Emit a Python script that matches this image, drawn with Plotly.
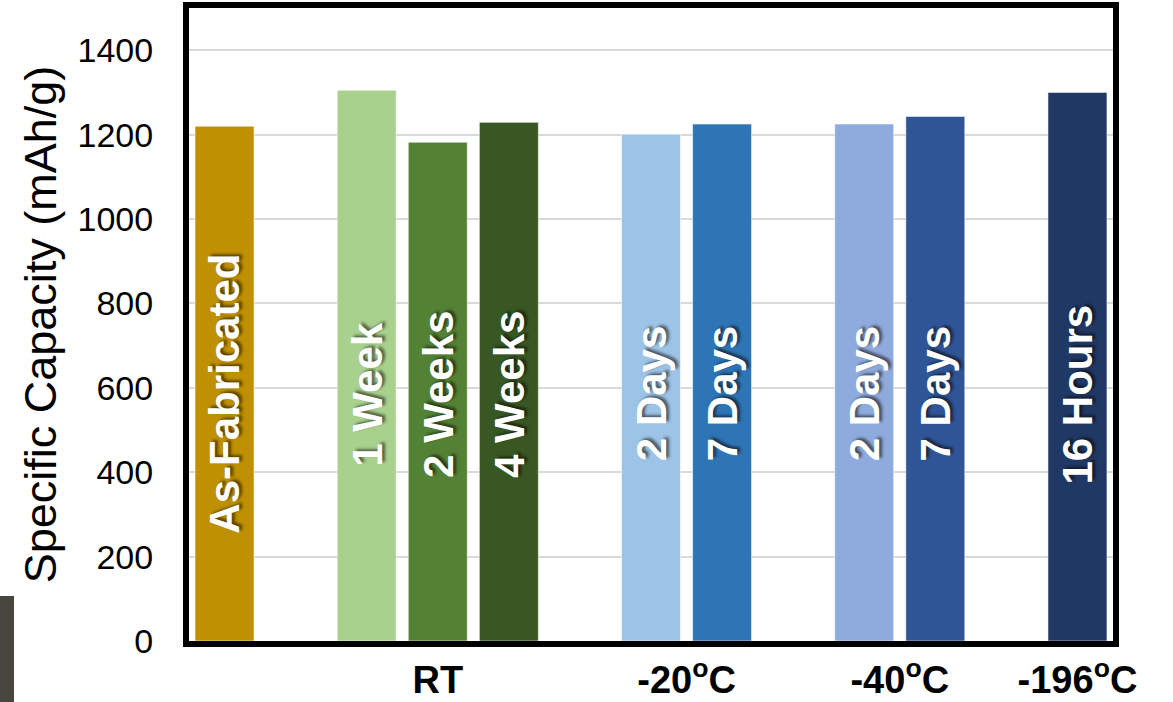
import plotly.graph_objects as go

# ---- data ----
group_names = ["", "RT", "-20<sup>o</sup>C", "-40<sup>o</sup>C", "-196<sup>o</sup>C"]
bar_labels = ["As-Fabricated", "1 Week", "2 Weeks", "4 Weeks",
              "2 Days", "7 Days", "2 Days", "7 Days", "16 Hours"]
bar_group = [0, 1, 1, 1, 2, 2, 3, 3, 4]
capacity = [1220, 1305, 1182, 1229, 1201, 1225, 1225, 1243, 1300]
bar_colors = ["#BF9000", "#A9D18E", "#548235", "#385723",
              "#9DC3E6", "#2E75B6", "#8FAADC", "#2F5597", "#203864"]
y_ticks = [0, 200, 400, 600, 800, 1000, 1200, 1400]

# slot positions: one empty slot between groups
xpos = []
pos = 0
prev = bar_group[0]
for g in bar_group:
    if g != prev:
        pos += 1
        prev = g
    xpos.append(pos)
    pos += 1

group_centers = []
group_text = []
for gi, name in enumerate(group_names):
    members = [x for x, g in zip(xpos, bar_group) if g == gi]
    if name:
        group_centers.append(sum(members) / len(members))
        group_text.append(name)

FONT = "Arial, Liberation Sans, Helvetica, sans-serif"

L, R, T, B = 189, 60, 8, 61
W, H = 1173, 702
pw, ph = W - L - R, H - T - B

fig = go.Figure()
fig.add_trace(go.Bar(
    x=xpos, y=capacity,
    marker=dict(color=bar_colors, line=dict(color="rgba(255,255,255,0.55)", width=1)),
    width=0.83,
    hoverinfo="skip",
))

for x, lab in zip(xpos, bar_labels):
    fig.add_annotation(
        x=x, xref="x", y=0.39, yref="paper",
        text=lab, showarrow=False, textangle=-90,
        font=dict(family=FONT, size=42, color="white", weight=700,
                  shadow="2px 3px 3px rgba(0,0,0,0.55)"),
    )

# dark strip at the lower-left edge of the picture
fig.add_shape(type="rect", xref="paper", yref="paper",
              x0=(0 - L) / pw, x1=(14 - L) / pw,
              y0=(H - B - 702) / ph, y1=(H - B - 596) / ph,
              fillcolor="#47463F", line=dict(width=0), layer="above")

fig.update_layout(
    width=W, height=H,
    margin=dict(l=L, r=R, t=T, b=B),
    paper_bgcolor="white", plot_bgcolor="white",
    showlegend=False,
    font=dict(family=FONT, color="black"),
)
fig.update_xaxes(
    range=[-0.5, 12.5],
    tickvals=group_centers, ticktext=group_text,
    tickfont=dict(size=38, weight=700, color="black"),
    ticks="", showgrid=False, zeroline=False,
    showline=True, linecolor="black", linewidth=6, mirror=True,
    ticklabelstandoff=0, automargin=False,
)
fig.update_yaxes(
    range=[0, 1500],
    tickvals=y_ticks,
    tickfont=dict(size=34, color="black"),
    ticks="", showgrid=True, gridcolor="#D9D9D9", gridwidth=1.5,
    zeroline=False,
    showline=True, linecolor="black", linewidth=6, mirror=True,
    ticklabelstandoff=23, automargin=False,
    title=dict(text="Specific Capacity (mAh/g)", font=dict(size=45, color="black"), standoff=9),
)

fig.write_html("out.html", config={"displayModeBar": False},
               post_script="document.body.style.margin='0';document.body.style.overflow='hidden';")
